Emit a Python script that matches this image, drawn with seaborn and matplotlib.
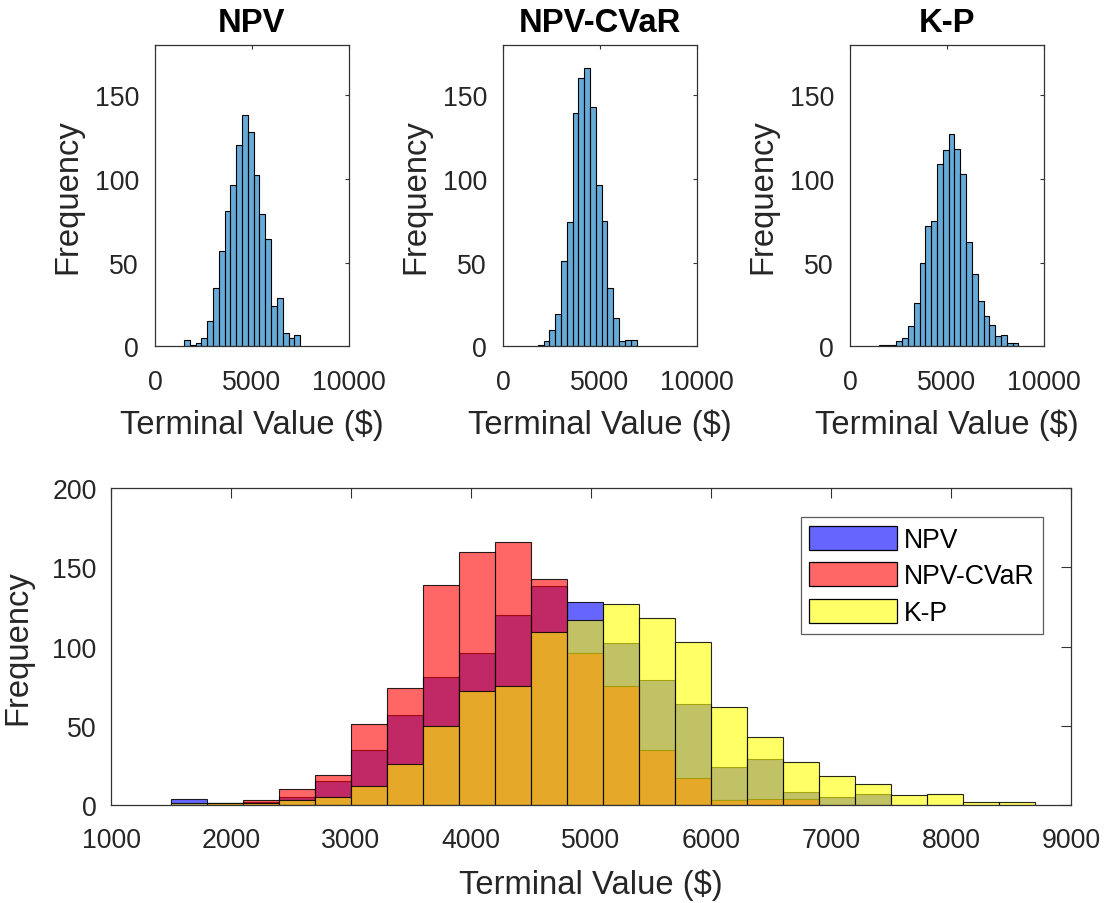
import numpy as np
import pandas as pd
import matplotlib
matplotlib.use("Agg")
import matplotlib.pyplot as plt
import seaborn as sns
from matplotlib.patches import Patch

# ---------------- data (bin counts) ----------------
bin_width = 300
series_names = ["NPV", "NPV-CVaR", "K-P"]

npv_start = 1500
npv_counts = [4, 1, 2, 5, 15, 35, 57, 81, 96, 120, 138, 128, 102, 79, 64, 24, 29, 8, 5, 7]

cvar_start = 1800
cvar_counts = [1, 3, 10, 19, 51, 74, 139, 160, 166, 143, 96, 75, 35, 17, 3, 4, 4]

kp_start = 1500
kp_counts = [1, 1, 1, 3, 5, 12, 26, 50, 72, 75, 109, 117, 127, 118, 103, 62, 43, 27, 18, 13, 6, 7, 2, 2]

top_xticks = [0, 5000, 10000]
top_yticks = [0, 50, 100, 150]
bottom_xticks = [1000, 2000, 3000, 4000, 5000, 6000, 7000, 8000, 9000]
bottom_yticks = [0, 50, 100, 150, 200]

# ---------------- style ----------------
sns.set_theme(style="white")
plt.rcParams["font.family"] = ["Liberation Sans", "DejaVu Sans"]
TXT = "0.15"
plt.rcParams["text.color"] = TXT
plt.rcParams["axes.labelcolor"] = TXT
plt.rcParams["xtick.color"] = TXT
plt.rcParams["ytick.color"] = TXT

TICK_FS = 19.2
LABEL_FS = 23.6
LEG_FS = 19.2

W, H = 1106, 904
fig = plt.figure(figsize=(W / 100, H / 100), dpi=100)
fig.patch.set_facecolor("white")


def frame(px_left, px_top, px_w, px_h):
    return [px_left / W, 1 - (px_top + px_h) / H, px_w / W, px_h / H]


def series_frame(start, counts):
    counts = np.asarray(counts, dtype=float)
    centers = start + bin_width * (np.arange(len(counts)) + 0.5)
    edges = [float(start + bin_width * i) for i in range(len(counts) + 1)]
    return pd.DataFrame({"value": centers, "count": counts}), edges


def style_axes(ax, ticklen, xpad, ypad):
    for s in ax.spines.values():
        s.set_visible(True)
        s.set_color("0.2")
        s.set_linewidth(0.9)
    ax.tick_params(direction="in", top=True, right=True, length=ticklen,
                   width=0.8, color="0.2", labelsize=TICK_FS, labelcolor=TXT)
    ax.tick_params(axis="x", pad=xpad)
    ax.tick_params(axis="y", pad=ypad)
    ax.grid(False)


top_color = (0.0, 0.447, 0.741)
top_lefts = [155, 503, 850]
all_series = [(npv_start, npv_counts), (cvar_start, cvar_counts), (kp_start, kp_counts)]

for name, left, (start, counts) in zip(series_names, top_lefts, all_series):
    ax = fig.add_axes(frame(left, 45.7, 193.5, 301.6))
    df, edges = series_frame(start, counts)
    sns.histplot(data=df, x="value", weights="count", bins=edges, ax=ax,
                 color=top_color, alpha=0.6, edgecolor="black", linewidth=0.8)
    ax.set_xlim(0, 10000)
    ax.set_ylim(0, 180)
    ax.set_xticks(top_xticks)
    ax.set_yticks(top_yticks)
    ax.set_xticklabels([str(t) for t in top_xticks])
    style_axes(ax, 3, 16.5, 11.5)
    ax.set_title(name, fontsize=LABEL_FS, fontweight="bold", color="black", pad=10)
    ax.set_xlabel("Terminal Value ($)", fontsize=LABEL_FS)
    ax.set_ylabel("Frequency", fontsize=LABEL_FS)
    ax.xaxis.set_label_coords(0.5, -0.205)
    ax.yaxis.set_label_coords(-0.37, 0.5)

# ---------------- bottom overlay ----------------
axb = fig.add_axes(frame(111, 489.3, 960, 316.7))
colors = ["blue", "red", "yellow"]
for (start, counts), c in zip(all_series, colors):
    df, edges = series_frame(start, counts)
    sns.histplot(data=df, x="value", weights="count", bins=edges, ax=axb,
                 color=c, alpha=0.6, edgecolor=(0, 0, 0, 0.85), linewidth=0.8)
axb.set_xlim(1000, 9000)
axb.set_ylim(0, 200)
axb.set_xticks(bottom_xticks)
axb.set_yticks(bottom_yticks)
axb.set_xticklabels([str(t) for t in bottom_xticks])
style_axes(axb, 7, 16, 10.3)
axb.set_xlabel("Terminal Value ($)", fontsize=LABEL_FS)
axb.set_ylabel("Frequency", fontsize=LABEL_FS)
axb.xaxis.set_label_coords(0.5, -0.2)
axb.yaxis.set_label_coords(-0.081, 0.5)

handles = [Patch(facecolor=matplotlib.colors.to_rgba(c, 0.6), edgecolor=(0, 0, 0, 1), linewidth=0.9)
           for c in colors]
leg = axb.legend(handles, series_names, loc="upper right",
                 bbox_to_anchor=((1043.3 - 111) / 960, (806 - 518.3) / 316.7),
                 borderaxespad=0, fontsize=LEG_FS, frameon=True, fancybox=False,
                 handlelength=3.3, handleheight=1.0, handletextpad=0.26,
                 labelspacing=0.35, borderpad=0.32)
leg.get_frame().set_edgecolor("0.2")
leg.get_frame().set_linewidth(0.9)
for t in leg.get_texts():
    t.set_color("black")

fig.savefig("out.png", dpi=100, facecolor="white")
